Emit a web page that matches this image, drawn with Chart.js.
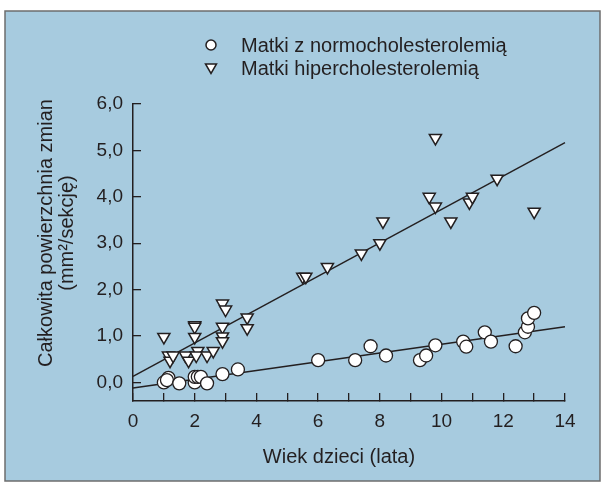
<!DOCTYPE html>
<html>
<head>
<meta charset="utf-8">
<script src="https://cdn.jsdelivr.net/npm/chart.js"></script>
<style>
  body { margin: 0; background: #fff; }
</style>
</head>
<body>
<canvas id="wykres" width="605" height="486"></canvas>
<script>
// Dane
const normoX = [1.0, 1.15, 1.1, 1.5, 2.0, 2.0, 2.1, 2.2, 2.4, 2.9, 3.4, 6.0, 7.2, 7.7, 8.2, 9.3, 9.5, 9.8, 10.7, 10.8, 11.4, 11.6, 12.4, 12.7, 12.8, 12.8, 13.0];
const normoY = [0.0, 0.1, 0.05, -0.02, 0.0, 0.12, 0.12, 0.12, -0.02, 0.18, 0.28, 0.48, 0.48, 0.78, 0.58, 0.48, 0.58, 0.8, 0.88, 0.77, 1.08, 0.88, 0.78, 1.08, 1.2, 1.38, 1.5];

const hiperX = [1.0, 1.15, 1.2, 1.3, 1.7, 1.8, 2.0, 2.0, 2.0, 2.1, 2.05, 2.4, 2.6, 2.9, 3.0, 2.9, 2.9, 2.9, 3.7, 3.7, 5.5, 5.6, 6.3, 7.4, 8.0, 8.1, 9.6, 9.8, 9.8, 10.3, 10.9, 11.0, 11.8, 13.0];
const hiperY = [0.98, 0.58, 0.47, 0.58, 0.58, 0.47, 1.23, 1.2, 0.98, 0.68, 0.58, 0.58, 0.68, 1.7, 1.57, 1.2, 0.99, 0.89, 1.4, 1.17, 2.28, 2.28, 2.49, 2.78, 3.0, 3.47, 4.0, 5.27, 3.79, 3.47, 3.88, 4.0, 4.39, 3.68];

// Linie trendu (x od 0 do 14)
const trendX = [0, 14];
const trendNormoY = [-0.12, 1.2];
const trendHiperY = [0.13, 5.17];

const xTickValues = [0, 1, 2, 3, 4, 5, 6, 7, 8, 9, 10, 11, 12, 13, 14];
const xTickLabels = ["0", "", "2", "", "4", "", "6", "", "8", "", "10", "", "12", "", "14"];
const yTickValues = [0, 1, 2, 3, 4, 5, 6];
const yTickLabels = ["0,0", "1,0", "2,0", "3,0", "4,0", "5,0", "6,0"];

const labelNormo = "Matki z normocholesterolemią";
const labelHiper = "Matki hipercholesterolemią";
const tytulX = "Wiek dzieci (lata)";
const tytulY = ["Całkowita powierzchnia zmian", "(mm²/sekcję)"];

const tlo = "#a7cbdf";
const ciemny = "#231f20";
const czcionka = "Liberation Sans, Arial, sans-serif";

function punkty(xs, ys) {
  return xs.map((x, i) => ({ x: x, y: ys[i] }));
}

// Tło z ramką
const tloPlugin = {
  id: "tlo",
  beforeDraw(chart) {
    const ctx = chart.ctx;
    ctx.save();
    ctx.fillStyle = "#fff";
    ctx.fillRect(0, 0, chart.width, chart.height);
    ctx.fillStyle = tlo;
    ctx.fillRect(5, 11, 595, 470);
    ctx.strokeStyle = "#6d6d6d";
    ctx.lineWidth = 1.5;
    ctx.strokeRect(5, 11, 595, 470);
    ctx.restore();
  },
};

// Legenda i tytuły osi
const tekstPlugin = {
  id: "teksty",
  afterDraw(chart) {
    const ctx = chart.ctx;
    ctx.save();
    ctx.fillStyle = ciemny;
    ctx.font = "20px " + czcionka;

    // legenda
    ctx.textAlign = "left";
    ctx.textBaseline = "alphabetic";
    ctx.fillText(labelNormo, 241, 52);
    ctx.fillText(labelHiper, 241, 75);

    ctx.strokeStyle = ciemny;
    ctx.lineWidth = 1.5;
    ctx.fillStyle = "#fff";
    ctx.beginPath();
    ctx.arc(211, 45, 5, 0, Math.PI * 2);
    ctx.fill();
    ctx.stroke();

    ctx.beginPath();
    ctx.moveTo(205.5, 64);
    ctx.lineTo(216.5, 64);
    ctx.lineTo(211, 73.5);
    ctx.closePath();
    ctx.fill();
    ctx.stroke();

    // tytuł osi X
    ctx.fillStyle = ciemny;
    ctx.textAlign = "center";
    ctx.fillText(tytulX, 339, 463);

    // tytuł osi Y
    ctx.translate(0, 233);
    ctx.rotate(-Math.PI / 2);
    ctx.fillText(tytulY[0], 0, 52);
    ctx.fillText(tytulY[1], 0, 73);
    ctx.restore();
  },
};

const ctx = document.getElementById("wykres");

new Chart(ctx, {
  type: "scatter",
  data: {
    datasets: [
      {
        label: labelNormo,
        data: punkty(normoX, normoY),
        pointStyle: "circle",
        pointRadius: 6.5,
        backgroundColor: "#fff",
        borderColor: ciemny,
        borderWidth: 1.3,
        order: 1,
      },
      {
        label: labelHiper,
        data: punkty(hiperX, hiperY),
        pointStyle: "triangle",
        rotation: 180,
        pointRadius: 7,
        backgroundColor: "#fff",
        borderColor: ciemny,
        borderWidth: 1.5,
        order: 2,
      },
      {
        label: "trend normo",
        data: punkty(trendX, trendNormoY),
        showLine: true,
        pointRadius: 0,
        borderColor: ciemny,
        borderWidth: 1.4,
        order: 3,
      },
      {
        label: "trend hiper",
        data: punkty(trendX, trendHiperY),
        showLine: true,
        pointRadius: 0,
        borderColor: ciemny,
        borderWidth: 1.4,
        order: 4,
      },
    ],
  },
  options: {
    responsive: false,
    animation: false,
    devicePixelRatio: 1,
    clip: false,
    layout: {
      padding: { top: 104, right: 40, left: 0, bottom: 0 },
    },
    plugins: {
      legend: { display: false },
      tooltip: { enabled: false },
    },
    scales: {
      x: {
        type: "linear",
        min: 0,
        max: 14,
        afterBuildTicks: (scale) => {
          scale.ticks = xTickValues.map((v) => ({ value: v }));
        },
        afterFit: (scale) => {
          scale.height = 85;
        },
        ticks: {
          autoSkip: false,
          maxRotation: 0,
          padding: 17,
          color: ciemny,
          font: { family: czcionka, size: 19 },
          callback: (v) => xTickLabels[xTickValues.indexOf(v)],
        },
        grid: {
          drawOnChartArea: false,
          tickLength: -8,
          color: ciemny,
          lineWidth: 1.3,
        },
        border: { color: ciemny, width: 1.5 },
      },
      y: {
        type: "linear",
        min: -0.4,
        max: 6,
        afterBuildTicks: (scale) => {
          scale.ticks = yTickValues.map((v) => ({ value: v }));
        },
        afterFit: (scale) => {
          scale.width = 133;
        },
        ticks: {
          padding: 18,
          color: ciemny,
          font: { family: czcionka, size: 19 },
          callback: (v) => yTickLabels[yTickValues.indexOf(v)],
        },
        grid: {
          drawOnChartArea: false,
          tickLength: -8,
          color: ciemny,
          lineWidth: 1.3,
        },
        border: { color: ciemny, width: 1.5 },
      },
    },
  },
  plugins: [tloPlugin, tekstPlugin],
});
</script>
</body>
</html>
